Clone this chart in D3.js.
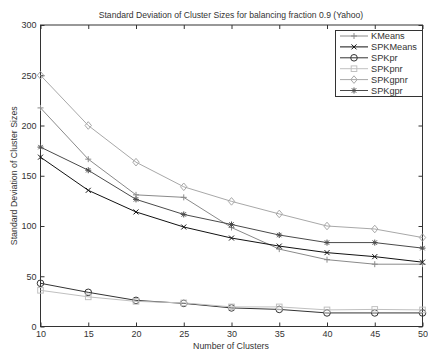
<!DOCTYPE html>
<html><head><meta charset="utf-8">
<script src="https://cdn.jsdelivr.net/npm/d3@7"></script>
<style>body{margin:0;background:#fff}svg{display:block}text{font-family:"Liberation Sans",Arial,sans-serif;fill:#333}</style>
</head><body><svg id="c" width="428" height="352"></svg>
<script>
const clusters = [10,15,20,25,30,35,40,45,50];
const seriesNames = ["KMeans","SPKMeans","SPKpr","SPKpnr","SPKgpnr","SPKgpr"];
const kmeans   = [217.5,166.5,131,128.5,98.5,77,66.5,62,62];
const spkmeans = [168.5,135.5,114,99,88,80,73.5,69.5,64];
const spkpr    = [43,34,26,23,18.5,17,13.5,13.5,13.5];
const spkpnr   = [36,29.5,25,23.5,19.5,19.5,16.5,17,16.5];
const spkgpnr  = [250,200,163.5,139,124.5,112,100,97,88.5];
const spkgpr   = [178.5,155.5,126.5,111.5,101.5,91,83.5,83.5,78];
const yTicks = [0,50,100,150,200,250,300];
const xTicks = [10,15,20,25,30,35,40,45,50];

const allSeries = [kmeans,spkmeans,spkpr,spkpnr,spkgpnr,spkgpr];
const colors = ["#8a8a8a","#111111","#333333","#c0c0c0","#a8a8a8","#4a4a4a"];
const markers = ["plus","x","circle","square","diamond","star"];

const svg = d3.select("#c");
const L=40.5, R=422.5, T=25, B=326.5;
const x = d3.scaleLinear().domain([10,50]).range([L,R]);
const y = d3.scaleLinear().domain([0,300]).range([B,T]);

svg.append("rect").attr("x",L).attr("y",T).attr("width",R-L).attr("height",B-T)
  .attr("fill","none").attr("stroke","#333").attr("stroke-width",1);

const ax = svg.append("g").attr("transform",`translate(0,${B})`)
  .call(d3.axisBottom(x).tickValues(xTicks).tickSize(-4).tickPadding(4).tickFormat(d3.format("d")));
const axT = svg.append("g").attr("transform",`translate(0,${T})`)
  .call(d3.axisTop(x).tickValues(xTicks).tickSize(-4).tickFormat(""));
const ay = svg.append("g").attr("transform",`translate(${L},0)`)
  .call(d3.axisLeft(y).tickValues(yTicks).tickSize(-4).tickPadding(4).tickFormat(d3.format("d")));
const ayR = svg.append("g").attr("transform",`translate(${R},0)`)
  .call(d3.axisRight(y).tickValues(yTicks).tickSize(-4).tickFormat(""));
[ax,axT,ay,ayR].forEach(g=>{
  g.select(".domain").remove();
  g.selectAll(".tick line").attr("stroke","#333");
  g.selectAll("text").attr("font-size",9).attr("fill","#333").style("font-family","Liberation Sans, Arial, sans-serif");
});

function marker(g, type, cx, cy, col){
  const s=3;
  if(type==="plus"){
    g.append("path").attr("d",`M${cx-s},${cy}H${cx+s}M${cx},${cy-s}V${cy+s}`).attr("stroke",col).attr("fill","none");
  } else if(type==="x"){
    g.append("path").attr("d",`M${cx-2.5},${cy-2.5}L${cx+2.5},${cy+2.5}M${cx-2.5},${cy+2.5}L${cx+2.5},${cy-2.5}`).attr("stroke",col).attr("fill","none");
  } else if(type==="circle"){
    g.append("circle").attr("cx",cx).attr("cy",cy).attr("r",3.3).attr("stroke",col).attr("fill","none");
  } else if(type==="square"){
    g.append("rect").attr("x",cx-2.8).attr("y",cy-2.8).attr("width",5.6).attr("height",5.6).attr("stroke",col).attr("fill","none");
  } else if(type==="diamond"){
    g.append("path").attr("d",`M${cx},${cy-3.8}L${cx+3.2},${cy}L${cx},${cy+3.8}L${cx-3.2},${cy}Z`).attr("stroke",col).attr("fill","none");
  } else if(type==="star"){
    g.append("path").attr("d",`M${cx-3},${cy}H${cx+3}M${cx},${cy-3}V${cy+3}M${cx-2.2},${cy-2.2}L${cx+2.2},${cy+2.2}M${cx-2.2},${cy+2.2}L${cx+2.2},${cy-2.2}`).attr("stroke",col).attr("fill","none");
  }
}

const line = d3.line().x((d,i)=>x(clusters[i])).y(d=>y(d));
allSeries.forEach((vals,k)=>{
  const g = svg.append("g");
  g.append("path").datum(vals).attr("d",line).attr("fill","none").attr("stroke",colors[k]).attr("stroke-width",1);
  vals.forEach((v,i)=>marker(g,markers[k],x(clusters[i]),y(v),colors[k]));
});

const lg = svg.append("g");
lg.append("rect").attr("x",335.5).attr("y",30.5).attr("width",87).attr("height",66)
  .attr("fill","#fff").attr("stroke","#333");
seriesNames.forEach((n,k)=>{
  const yy = 36 + k*10.9;
  lg.append("line").attr("x1",340).attr("x2",368).attr("y1",yy).attr("y2",yy).attr("stroke",colors[k]);
  marker(lg,markers[k],354,yy,colors[k]);
  lg.append("text").attr("x",371).attr("y",yy+3.3).attr("font-size",9.2).text(n);
});

svg.append("text").attr("x",231).attr("y",18).attr("text-anchor","middle").attr("font-size",8.6)
  .text("Standard Deviation of Cluster Sizes for balancing fraction 0.9 (Yahoo)");
svg.append("text").attr("x",231).attr("y",349).attr("text-anchor","middle").attr("font-size",8.8)
  .text("Number of Clusters");
svg.append("text").attr("transform",`translate(17,${(T+B)/2}) rotate(-90)`).attr("text-anchor","middle").attr("font-size",8.8)
  .text("Standard Deviation of Cluster Sizes");
</script></body></html>
